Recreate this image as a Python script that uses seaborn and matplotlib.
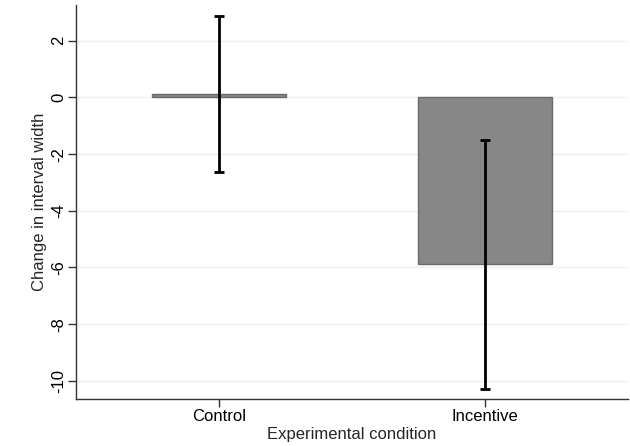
import numpy as np
import pandas as pd
import seaborn as sns
import matplotlib.pyplot as plt

## Data
conditions = ['Control', 'Incentive']
mean_change = [0.13, -5.89]
ci_low = [-2.63, -10.29]
ci_high = [2.88, -1.51]

df = pd.DataFrame({'condition': conditions, 'change': mean_change})

## Style
sns.set_style('white')
plt.rcParams['font.family'] = ['Liberation Sans', 'DejaVu Sans']
plt.rcParams['axes.unicode_minus'] = False

fig = plt.figure(figsize=(6.3, 4.46), dpi=100)
ax = fig.add_axes([76/630, 47/446, 552/630, 394/446])

sns.barplot(data=df, x='condition', y='change', color='#878787',
            saturation=1, width=0.504, errorbar=None,
            edgecolor='#6a6a6a', linewidth=1, ax=ax, zorder=2)

# confidence intervals
means = np.array(mean_change)
yerr = [means - np.array(ci_low), np.array(ci_high) - means]
ax.errorbar(x=np.arange(len(conditions)), y=means, yerr=yerr, fmt='none',
            ecolor='black', elinewidth=2, capsize=3.5, capthick=2, zorder=3)

ax.set_xlim(-0.5376, 1.5376)
ax.set_ylim(-10.64, 3.26)
ax.set_yticks([-10, -8, -6, -4, -2, 0, 2])
ax.yaxis.grid(True, color='#e9f1f3', linewidth=1, zorder=0)
ax.set_axisbelow(True)

for side in ['top', 'right']:
    ax.spines[side].set_visible(False)
for side in ['left', 'bottom']:
    ax.spines[side].set_color('#333333')
    ax.spines[side].set_linewidth(1)

ax.tick_params(axis='both', direction='out', length=5.5, width=1,
               color='#333333', labelsize=12, labelcolor='black',
               bottom=True, left=True)
ax.tick_params(axis='y', pad=1.5)
ax.tick_params(axis='x', pad=1.5)
for lab in ax.get_yticklabels():
    lab.set_rotation(90)
    lab.set_va('center')

ax.set_xlabel('Experimental condition', fontsize=12, labelpad=2)
ax.set_ylabel('Change in interval width', fontsize=12, labelpad=3)

fig.savefig('out.png', dpi=100)
